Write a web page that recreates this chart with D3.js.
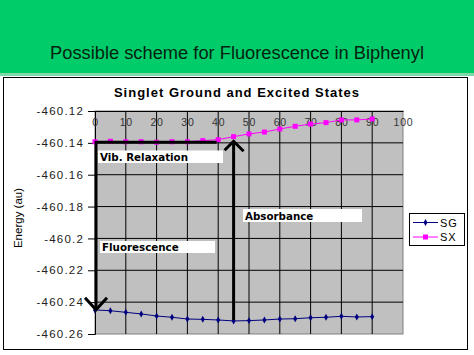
<!DOCTYPE html>
<html><head><meta charset="utf-8">
<script src="https://cdn.jsdelivr.net/npm/d3@7"></script>
<style>body{margin:0;background:#fff}svg{display:block}</style>
</head><body><svg id="c" width="474" height="355"></svg>
<script>
const xValues = [0,5,10,15,20,25,30,35,40,45,50,55,60,65,70,75,80,85,90];
const sgValues = [-460.2449,-460.2454,-460.2464,-460.2474,-460.2487,-460.2495,-460.2506,-460.2508,-460.2512,-460.2518,-460.2516,-460.2512,-460.2506,-460.2504,-460.2498,-460.2495,-460.2489,-460.2493,-460.2491];
const sxValues = [-460.1393,-460.1390,-460.1393,-460.1393,-460.1396,-460.1393,-460.1393,-460.1386,-460.1380,-460.1361,-460.1344,-460.1332,-460.1313,-460.1296,-460.1282,-460.1273,-460.1256,-460.1256,-460.1250];
const xTicks = [0,10,20,30,40,50,60,70,80,90,100];
const yTicks = [-460.12,-460.14,-460.16,-460.18,-460.2,-460.22,-460.24,-460.26];
const seriesNames = ["SG","SX"];

const svg = d3.select("#c");
// header
svg.append("rect").attr("x",0).attr("y",0).attr("width",474).attr("height",75).attr("fill","#00cc6a");
svg.append("rect").attr("x",0).attr("y",73).attr("width",474).attr("height",3).attr("fill","#7fd9a8");
svg.append("text").attr("x",237).attr("y",59).attr("text-anchor","middle")
  .attr("font-family","Liberation Sans, Arial, sans-serif").attr("font-size",18.3).attr("fill","#052410")
  .text("Possible scheme for Fluorescence in Biphenyl");
// chart frame
svg.append("rect").attr("x",3.5).attr("y",77.5).attr("width",464).attr("height",272).attr("fill","#fff").attr("stroke","#000").attr("stroke-width",1);
svg.append("text").attr("x",237).attr("y",97).attr("text-anchor","middle")
  .attr("font-family","Liberation Sans, Arial, sans-serif").attr("font-size",13).attr("font-weight","bold")
  .attr("letter-spacing",1).attr("fill","#000").text("Singlet Ground and Excited States");

const x = d3.scaleLinear().domain([0,100]).range([95,403]);
const y = d3.scaleLinear().domain([-460.26,-460.12]).range([334,111]);

// plot area
svg.append("rect").attr("x",x(0)).attr("y",y(-460.12)).attr("width",x(100)-x(0)).attr("height",y(-460.26)-y(-460.12))
  .attr("fill","#c0c0c0").attr("stroke","#808080");
// grid
const g = svg.append("g");
g.selectAll(".vg").data(xTicks.slice(1,-1)).join("line").attr("x1",d=>x(d)).attr("x2",d=>x(d))
  .attr("y1",y(-460.12)).attr("y2",y(-460.26)).attr("stroke","#000");
g.selectAll(".hg").data(yTicks.slice(1,-1)).join("line").attr("x1",x(0)).attr("x2",x(100))
  .attr("y1",d=>y(d)).attr("y2",d=>y(d)).attr("stroke","#000");
// y axis
const yAxis = svg.append("g").attr("transform",`translate(${x(0)},0)`)
  .call(d3.axisLeft(y).tickValues(yTicks).tickSize(7).tickPadding(4).tickFormat(d=>String(d)));
yAxis.select(".domain").attr("stroke","#000");
yAxis.selectAll("text").attr("font-family","Liberation Sans, Arial, sans-serif").attr("font-size",11.5).attr("letter-spacing",1.2).attr("fill","#222");
// x axis at top, labels inside
const xAxis = svg.append("g").attr("transform",`translate(0,${y(-460.12)})`)
  .call(d3.axisBottom(x).tickValues(xTicks).tickSize(0).tickPadding(8));
xAxis.select(".domain").attr("stroke","#000");
xAxis.selectAll("text").attr("font-family","Liberation Sans, Arial, sans-serif").attr("font-size",10.5).attr("letter-spacing",0.8).attr("fill","#333");
svg.append("text").attr("transform",`translate(22,218) rotate(-90)`).attr("text-anchor","middle")
  .attr("font-family","Liberation Sans, Arial, sans-serif").attr("font-size",11.5).attr("fill","#000").text("Energy (au)");

// series
const line = d3.line().x(d=>x(d[0])).y(d=>y(d[1]));
const sg = xValues.map((v,i)=>[v,sgValues[i]]);
const sx = xValues.map((v,i)=>[v,sxValues[i]]);
svg.append("path").attr("d",line(sg)).attr("fill","none").attr("stroke","#000080").attr("stroke-width",1);
svg.append("path").attr("d",line(sx)).attr("fill","none").attr("stroke","#ff00ff").attr("stroke-width",1);
svg.selectAll(".sgm").data(sg).join("path").attr("d",d3.symbol(d3.symbolDiamond,14))
  .attr("transform",d=>`translate(${x(d[0])},${y(d[1])})`).attr("fill","#000080");
svg.selectAll(".sxm").data(sx).join("rect").attr("x",d=>x(d[0])-2.5).attr("y",d=>y(d[1])-2.5)
  .attr("width",5).attr("height",5).attr("fill","#ff00ff");

// annotations
const ann = svg.append("g").attr("stroke","#000").attr("stroke-width",3).attr("fill","none");
const yTopArr = -460.1400, xRelaxEnd = 39.5;
ann.append("path").attr("d",`M${x(xRelaxEnd)},${y(yTopArr)-0.5}H${x(0)+1}V${y(-460.2448)}`);
ann.append("path").attr("d",`M${x(0)-10},${y(-460.2448)-12}L${x(0)+1},${y(-460.2448)}L${x(0)+12},${y(-460.2448)-12}`).attr("stroke-width",3);
ann.append("path").attr("d",`M${x(45)},${y(-460.2512)}V${y(-460.1390)}`);
ann.append("path").attr("d",`M${x(45)-9},${y(-460.1390)+9}L${x(45)},${y(-460.1390)}L${x(45)+10},${y(-460.1390)+10}`);

function label(bx,by,bw,bh,t){
  svg.append("rect").attr("x",bx).attr("y",by).attr("width",bw).attr("height",bh).attr("fill","#fff");
  svg.append("text").attr("x",bx+2).attr("y",by+bh-2.5).attr("font-family","DejaVu Sans, sans-serif")
    .attr("font-weight","bold").attr("font-size",10.3).attr("fill","#000").text(t);
}
label(98,150.5,125,12.5,"Vib. Relaxation");
label(100,241,115,12,"Fluorescence");
label(243,209,119,13,"Absorbance");

// legend
const lg = svg.append("g");
lg.append("rect").attr("x",409.5).attr("y",213.5).attr("width",55).attr("height",32).attr("fill","#fff").attr("stroke","#000");
const colors = ["#000080","#ff00ff"];
seriesNames.forEach((n,i)=>{
  const ly = 222.5 + i*14.5;
  lg.append("line").attr("x1",413).attr("x2",438).attr("y1",ly).attr("y2",ly).attr("stroke",colors[i]);
  if(i===0) lg.append("path").attr("d",d3.symbol(d3.symbolDiamond,14)).attr("transform",`translate(425.5,${ly})`).attr("fill",colors[i]);
  else lg.append("rect").attr("x",423).attr("y",ly-2.5).attr("width",5).attr("height",5).attr("fill",colors[i]);
  lg.append("text").attr("x",440).attr("y",ly+4).attr("font-family","Liberation Sans, Arial, sans-serif")
    .attr("font-size",11).attr("letter-spacing",0.8).attr("fill","#000").text(n);
});
</script></body></html>
